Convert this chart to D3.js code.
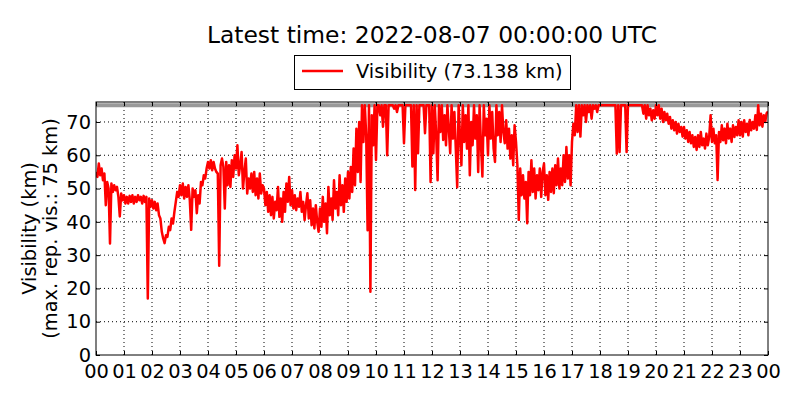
<!DOCTYPE html>
<html>
<head>
<meta charset="utf-8">
<script src="https://cdn.jsdelivr.net/npm/d3@7"></script>
<style>
  body { margin: 0; background: #fff; }
  text { font-family: "DejaVu Sans", sans-serif; fill: #000; }
</style>
</head>
<body>
<script>
// visibility (km), one reading every 3 minutes from 00:00 UTC, one row per hour
const startTime = new Date(Date.UTC(2022, 7, 6, 0, 0, 0));
const stepMinutes = 3;
const visibility = [
  55, 53.5, 57.5, 54, 56, 52.5, 54.5, 45, 52, 50, 33.5, 51.5, 49, 51, 49.5, 50.5, 47.5, 41.6, 48.5, 46.5,
  48, 45.5, 47.5, 45.5, 47.8, 46, 48, 45.5, 47.5, 46, 48, 46.5, 47.5, 45.5, 47.8, 46, 47.5, 17, 47, 44.5,
  46.5, 44, 46, 43.5, 45.5, 42, 41, 37, 35, 33.6, 36, 35.5, 38.5, 37.5, 41, 39.5, 43, 46, 49, 47.5,
  51, 48, 51.5, 47, 50.5, 47.5, 51, 46.5, 37.6, 50, 47.5, 49.5, 42.6, 48, 45.5, 52, 51, 54, 53, 56,
  58, 56, 58.5, 55.5, 58, 56, 55, 54.5, 26.8, 57, 59, 56.5, 44, 58, 51, 57, 50.5, 58.5, 53.5, 60,
  56, 63, 54, 57, 61, 50, 55, 59, 48.5, 53, 50, 54.5, 49, 55, 48, 53, 47, 54.5, 48.5, 51,
  50, 45, 49, 43, 48, 42, 47.5, 41, 46, 43.5, 50.5, 41.5, 47, 40, 49, 43, 51.5, 46, 53.5, 45,
  49.5, 44, 48, 43.5, 47, 44.5, 49, 43, 46, 40.5, 45, 48.6, 41, 46.5, 39, 44, 38, 45, 40, 37,
  44, 38.5, 47.5, 40, 45.5, 36.6, 50.5, 42, 47, 40.6, 52.5, 44, 49, 42, 54, 45, 51, 43, 53, 46,
  55, 47, 56.5, 49, 62, 51, 68, 55, 70, 52, 75, 64, 75, 66, 37.5, 75, 19, 72, 63, 75,
  58.6, 75, 75, 72, 75, 68.6, 75, 75, 60, 75, 75, 75, 75, 74, 75, 73, 75, 75, 75, 75,
  63.6, 75, 75, 75, 75, 75, 56.6, 75, 49.6, 75, 60.6, 75, 75, 75, 75, 66.6, 75, 75, 75, 52,
  75, 60.6, 75, 66, 52.5, 75, 67, 75, 64.6, 72, 63, 75, 68, 60.6, 75, 65, 73, 62, 50.4, 75,
  66, 57, 75, 64, 72, 62, 75, 54, 70, 63, 75, 65, 72, 55, 75, 63, 53.6, 75, 66, 71,
  60, 75, 65, 73, 62, 58, 75, 66, 73, 64, 75, 67, 63.6, 70.5, 62, 68, 59, 66, 57, 69,
  64, 57, 40.6, 56, 48, 54, 47, 52, 39.6, 55, 48, 58.5, 49, 56, 47, 54, 49.5, 56, 47.5, 55,
  57.5, 48, 54, 46.6, 55, 49, 56, 48.6, 57, 51, 59, 50, 56, 51, 60, 52, 62.5, 53, 60, 51,
  64, 69.5, 66, 75, 67, 75, 65.6, 75, 72, 75, 70, 75, 73, 75, 71, 75, 74, 75, 73, 75,
  75, 75, 75, 75, 75, 75, 75, 75, 75, 75, 75, 75, 60.5, 75, 61, 75, 75, 75, 75, 61,
  75, 75, 75, 75, 75, 75, 75, 75, 75, 75, 75, 72.5, 75, 71, 75, 72, 74, 70.5, 73.5, 71,
  75, 72, 75, 71, 74, 70, 73, 70.5, 72.5, 69.5, 71.5, 68, 70.5, 67.5, 70, 66.5, 69.5, 67, 68.5, 65.6,
  68.5, 65, 67.5, 64, 67, 63.6, 66, 62.5, 65.5, 61.6, 66, 62.5, 67, 63, 65, 62, 66.5, 63, 65.5, 72,
  64, 68, 63.6, 66, 52.6, 67, 64, 69, 64.5, 68, 63.6, 69.5, 65, 68, 64, 69, 65.5, 68.5, 66, 70.5,
  66, 70, 65.6, 70.5, 67, 69.5, 66, 70.6, 67.5, 70, 68, 72, 67.6, 75, 69, 72.5, 68.6, 72, 70, 72.6,
  73.138
];
const maxReportedVis = 75;
const yTicks = [0, 10, 20, 30, 40, 50, 60, 70];
const titleText = "Latest time: 2022-08-07 00:00:00 UTC";
const legendText = "Visibility (73.138 km)";
const yLabelLines = ["Visibility (km)", "(max. rep. vis.: 75 km)"];

const readings = visibility.map((v, i) => ({
  t: new Date(startTime.getTime() + i * stepMinutes * 60000),
  v: v
}));

const width = 800, height = 400;
const margin = { top: 102, right: 32, bottom: 45, left: 96 };
const w = width - margin.left - margin.right;
const h = height - margin.top - margin.bottom;

const svg = d3.select("body").append("svg")
  .attr("width", width)
  .attr("height", height);

const endTime = new Date(startTime.getTime() + 24 * 3600000);
const x = d3.scaleUtc().domain([startTime, endTime]).range([0, w]);
const y = d3.scaleLinear().domain([0, 76]).range([h, 0]);

const g = svg.append("g").attr("transform", `translate(${margin.left},${margin.top})`);

// dotted grid
const hourTicks = d3.utcHour.range(startTime, new Date(endTime.getTime() + 1));
g.append("g").selectAll("line").data(hourTicks.slice(1, -1)).join("line")
  .attr("x1", d => x(d)).attr("x2", d => x(d))
  .attr("y1", 0).attr("y2", h)
  .attr("stroke", "#000").attr("stroke-width", 1).attr("stroke-dasharray", "1,3");
g.append("g").selectAll("line").data(yTicks.slice(1)).join("line")
  .attr("x1", 0).attr("x2", w)
  .attr("y1", d => y(d)).attr("y2", d => y(d))
  .attr("stroke", "#000").attr("stroke-width", 1).attr("stroke-dasharray", "1,3");

// max reported visibility line
g.append("line")
  .attr("x1", 0).attr("x2", w)
  .attr("y1", y(maxReportedVis)).attr("y2", y(maxReportedVis))
  .attr("stroke", "#808080").attr("stroke-width", 4).attr("opacity", 0.8);

svg.append("clipPath").attr("id", "plotclip")
  .append("rect").attr("width", w).attr("height", h);

g.append("path")
  .datum(readings)
  .attr("clip-path", "url(#plotclip)")
  .attr("fill", "none")
  .attr("stroke", "#ff0000")
  .attr("stroke-width", 2.5)
  .attr("stroke-linejoin", "round")
  .attr("d", d3.line().x(d => x(d.t)).y(d => y(d.v)));

// axes, ticks inside on all four sides
const xAxis = d3.axisBottom(x).tickValues(hourTicks).tickFormat(d3.utcFormat("%H"))
  .tickSizeInner(-4).tickSizeOuter(0).tickPadding(9);
g.append("g").attr("transform", `translate(0,${h})`).call(xAxis);
const yAxis = d3.axisLeft(y).tickValues(yTicks).tickSizeInner(-4).tickSizeOuter(0).tickPadding(5);
g.append("g").call(yAxis);
g.append("g").attr("transform", `translate(${w},0)`)
  .call(d3.axisRight(y).tickValues(yTicks).tickSizeInner(-4).tickSizeOuter(0).tickFormat(""));
g.append("g")
  .call(d3.axisTop(x).tickValues(hourTicks).tickSizeInner(-4).tickSizeOuter(0).tickFormat(""));
g.selectAll(".domain").remove();
g.selectAll(".tick line").attr("stroke", "#000");
g.selectAll(".tick text").style("font-family", "DejaVu Sans").style("font-size", "19.4px");

g.append("rect").attr("width", w).attr("height", h)
  .attr("fill", "none").attr("stroke", "#000").attr("stroke-width", 1);

// title
svg.append("text")
  .attr("x", margin.left + w / 2).attr("y", 43)
  .attr("text-anchor", "middle")
  .style("font-size", "23.4px")
  .text(titleText);

// legend
const lg = svg.append("g");
lg.append("rect")
  .attr("x", 294.5).attr("y", 55.5).attr("width", 276).attr("height", 34)
  .attr("fill", "#fff").attr("stroke", "#000").attr("stroke-width", 1);
lg.append("line")
  .attr("x1", 302).attr("x2", 343).attr("y1", 71).attr("y2", 71)
  .attr("stroke", "#ff0000").attr("stroke-width", 2.5);
lg.append("text")
  .attr("x", 356).attr("y", 78)
  .style("font-size", "19.4px")
  .text(legendText);

// y label
const yl = svg.append("text")
  .attr("transform", `translate(36,${margin.top + h / 2}) rotate(-90)`)
  .attr("text-anchor", "middle")
  .style("font-size", "19.4px");
yl.selectAll("tspan").data(yLabelLines).join("tspan")
  .attr("x", 0)
  .attr("dy", (d, i) => i === 0 ? 0 : 21)
  .text(d => d);
</script>
</body>
</html>
